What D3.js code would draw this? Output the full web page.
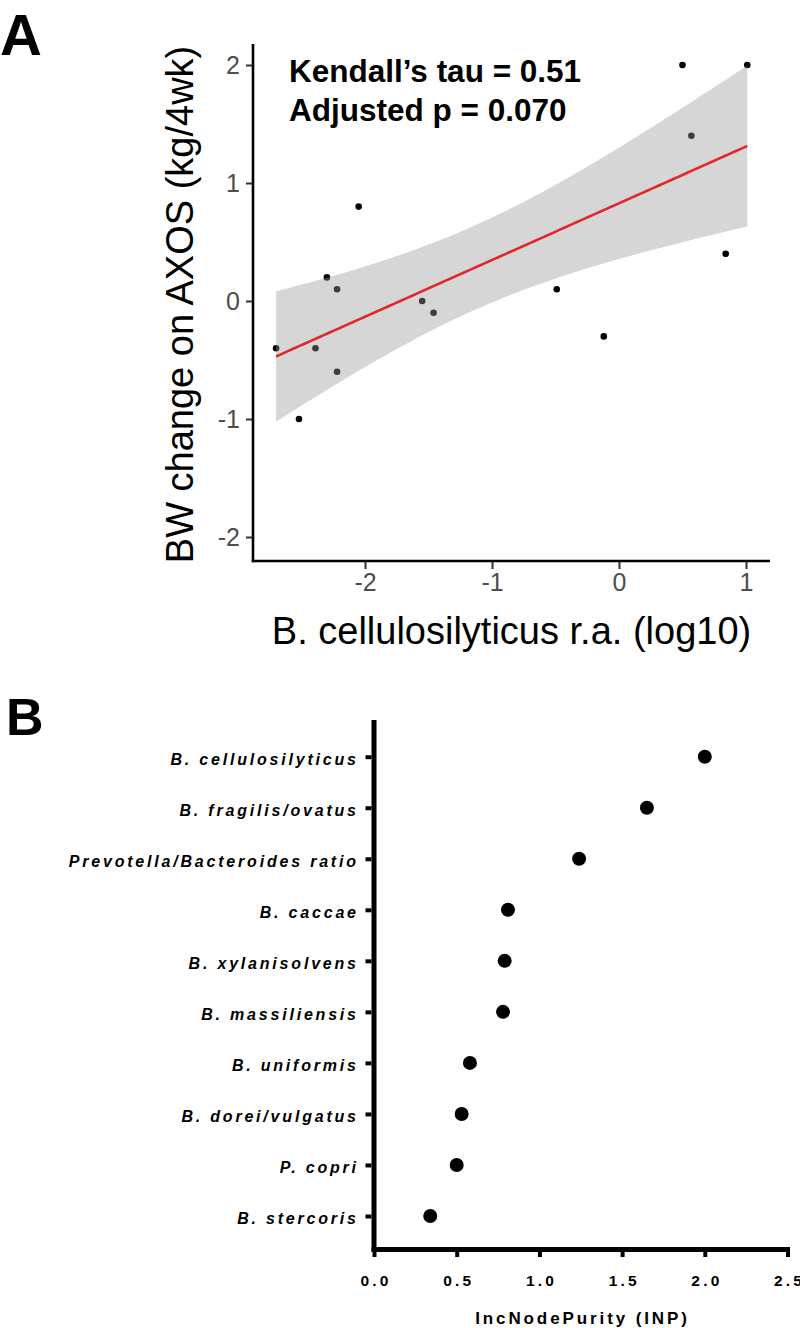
<!DOCTYPE html>
<html>
<head>
<meta charset="utf-8">
<script src="https://cdn.jsdelivr.net/npm/d3@7"></script>
<style>
  html, body { margin: 0; padding: 0; background: #fff; }
  svg { display: block; font-family: "Liberation Sans", Arial, Helvetica, sans-serif; }
</style>
</head>
<body>
<svg id="chart" width="800" height="1328"></svg>
<script>
// ---------- Panel A data ----------
const logRA = [-2.70, -2.52, -2.39, -2.30, -2.22, -2.22, -2.05, -1.55, -1.46, -0.49, -0.12, 0.50, 1.01, 0.57, 0.84];
const bwChange = [-0.4, -1.0, -0.4, 0.2, 0.1, -0.6, 0.8, 0.0, -0.1, 0.1, -0.3, 2.0, 2.0, 1.4, 0.4];
const xTicksA = [-2, -1, 0, 1];
const yTicksA = [-2, -1, 0, 1, 2];
const statLines = ["Kendall\u2019s tau = 0.51", "Adjusted p = 0.070"];
const xTitleA = "B. cellulosilyticus r.a. (log10)";
const yTitleA = "BW change on AXOS (kg/4wk)";
const tCrit = 2.1604; // t(0.975, df = 13)

// ---------- Panel B data ----------
const taxa = ["B. cellulosilyticus", "B. fragilis/ovatus", "Prevotella/Bacteroides ratio", "B. caccae",
              "B. xylanisolvens", "B. massiliensis", "B. uniformis", "B. dorei/vulgatus", "P. copri", "B. stercoris"];
const inp = [2.00, 1.65, 1.24, 0.81, 0.79, 0.78, 0.58, 0.53, 0.50, 0.34];
const xTicksB = [0, 0.5, 1.0, 1.5, 2.0, 2.5];
const xTitleB = "IncNodePurity (INP)";

const svg = d3.select("#chart");
const hyphenInt = d => String(d); // ggplot-style hyphen minus

// ================= Panel A =================
const gA = svg.append("g");
const xA = d3.scaleLinear().domain([-2, 1]).range([365, 746]);
const yA = d3.scaleLinear().domain([-2, 2]).range([537, 65]);
const axL = 253, axR = 770, axT = 44, axB = 561;

// points (drawn first, band overlays them as in ggplot)
const pts = logRA.map((x, i) => ({x, y: bwChange[i]}));
gA.append("g").selectAll("circle").data(pts).join("circle")
  .attr("cx", d => xA(d.x)).attr("cy", d => yA(d.y)).attr("r", 3.3).attr("fill", "#000");

// linear fit + 95% CI
const n = pts.length;
const mx = d3.mean(pts, d => d.x), my = d3.mean(pts, d => d.y);
const sxx = d3.sum(pts, d => (d.x - mx) ** 2);
const sxy = d3.sum(pts, d => (d.x - mx) * (d.y - my));
const b1 = sxy / sxx, b0 = my - b1 * mx;
const sse = d3.sum(pts, d => (d.y - (b0 + b1 * d.x)) ** 2);
const s = Math.sqrt(sse / (n - 2));
const [xmin, xmax] = d3.extent(pts, d => d.x);
const grid = d3.range(0, 81).map(i => xmin + (xmax - xmin) * i / 80);
const band = grid.map(x => {
  const fit = b0 + b1 * x;
  const se = s * Math.sqrt(1 / n + (x - mx) ** 2 / sxx);
  return {x, fit, lo: fit - tCrit * se, hi: fit + tCrit * se};
});
gA.append("path").datum(band)
  .attr("d", d3.area().x(d => xA(d.x)).y0(d => yA(d.lo)).y1(d => yA(d.hi)))
  .attr("fill", "#999999").attr("fill-opacity", 0.4);
gA.append("path").datum(band)
  .attr("d", d3.line().x(d => xA(d.x)).y(d => yA(d.fit)))
  .attr("fill", "none").attr("stroke", "#e3262b").attr("stroke-width", 2.6);

// axes
const yAxisA = gA.append("g").attr("transform", `translate(${axL},0)`)
  .call(d3.axisLeft(yA).tickValues(yTicksA).tickSize(7).tickPadding(6).tickFormat(hyphenInt));
yAxisA.select(".domain").remove();
yAxisA.selectAll(".tick line").attr("stroke", "#333").attr("stroke-width", 2);
yAxisA.selectAll(".tick text").attr("fill", "#4d4d4d").style("font-size", "25px")
  .style("font-family", "'Liberation Sans', Arial, sans-serif");

const xAxisA = gA.append("g").attr("transform", `translate(0,${axB})`)
  .call(d3.axisBottom(xA).tickValues(xTicksA).tickSize(8).tickPadding(4).tickFormat(hyphenInt));
xAxisA.select(".domain").remove();
xAxisA.selectAll(".tick line").attr("stroke", "#333").attr("stroke-width", 2);
xAxisA.selectAll(".tick text").attr("fill", "#4d4d4d").style("font-size", "25px")
  .style("font-family", "'Liberation Sans', Arial, sans-serif");

gA.append("line").attr("x1", axL).attr("x2", axL).attr("y1", axT).attr("y2", axB + 1.2)
  .attr("stroke", "#000").attr("stroke-width", 2.6);
gA.append("line").attr("x1", axL - 1.2).attr("x2", axR).attr("y1", axB).attr("y2", axB)
  .attr("stroke", "#000").attr("stroke-width", 2.6);

// titles
gA.append("text").attr("x", (axL + axR) / 2).attr("y", 644).attr("text-anchor", "middle")
  .style("font-size", "38px").attr("fill", "#000").text(xTitleA);
gA.append("text").attr("transform", `translate(193,${(axT + axB) / 2 + 2}) rotate(-90)`)
  .attr("text-anchor", "middle").style("font-size", "38px").attr("fill", "#000").text(yTitleA);

// stats annotation
gA.selectAll("text.stat").data(statLines).join("text").attr("class", "stat")
  .attr("x", 289).attr("y", (d, i) => 82 + i * 38.5)
  .style("font-size", "31.5px").style("font-weight", "bold").attr("fill", "#000").text(d => d);

// panel letter
svg.append("text").attr("x", 0).attr("y", 55).style("font-size", "58px").style("font-weight", "bold").text("A");

// ================= Panel B =================
const gB = svg.append("g");
const xB = d3.scaleLinear().domain([0, 2.5]).range([374, 787.5]);
const yB = d3.scalePoint().domain(taxa).range([756.7, 1216]);
const bAxisY = 1249.5, bAxisX = 374;

gB.append("line").attr("x1", bAxisX).attr("x2", bAxisX).attr("y1", 720).attr("y2", bAxisY + 2.5)
  .attr("stroke", "#000").attr("stroke-width", 5);
gB.append("line").attr("x1", bAxisX - 2.5).attr("x2", 790).attr("y1", bAxisY).attr("y2", bAxisY)
  .attr("stroke", "#000").attr("stroke-width", 5);

const lsY = 2.8;
const yAxisB = gB.append("g").attr("transform", `translate(${bAxisX - 2.5},0)`)
  .call(d3.axisLeft(yB).tickSize(6).tickPadding(6.7));
yAxisB.select(".domain").remove();
yAxisB.selectAll(".tick line").attr("stroke", "#000").attr("stroke-width", 4);
yAxisB.selectAll(".tick text").attr("fill", "#000").attr("dy", 7.5)
  .style("font-size", "16px").style("font-weight", "bold").style("font-style", "italic")
  .style("letter-spacing", lsY + "px")
  .style("font-family", "'Liberation Sans', Arial, sans-serif");

const lsX = 3.2;
const xAxisB = gB.append("g").attr("transform", `translate(0,${bAxisY + 2.5})`)
  .call(d3.axisBottom(xB).tickValues(xTicksB).tickSize(5).tickPadding(17.5).tickFormat(d3.format(".1f")));
xAxisB.select(".domain").remove();
xAxisB.selectAll(".tick line").attr("stroke", "#000").attr("stroke-width", 4);
xAxisB.selectAll(".tick text").attr("fill", "#000").attr("dx", lsX / 2)
  .style("font-size", "15.5px").style("font-weight", "bold")
  .style("letter-spacing", lsX + "px")
  .style("font-family", "'Liberation Sans', Arial, sans-serif");

gB.append("g").selectAll("circle").data(taxa).join("circle")
  .attr("cx", (d, i) => xB(inp[i])).attr("cy", d => yB(d)).attr("r", 7).attr("fill", "#000");

gB.append("text").attr("x", 581 + 1.5).attr("y", 1324).attr("text-anchor", "middle")
  .style("font-size", "17px").style("font-weight", "bold").style("letter-spacing", "2.9px").text(xTitleB);

svg.append("text").attr("x", 6).attr("y", 735).style("font-size", "52px").style("font-weight", "bold").text("B");
</script>
</body>
</html>
